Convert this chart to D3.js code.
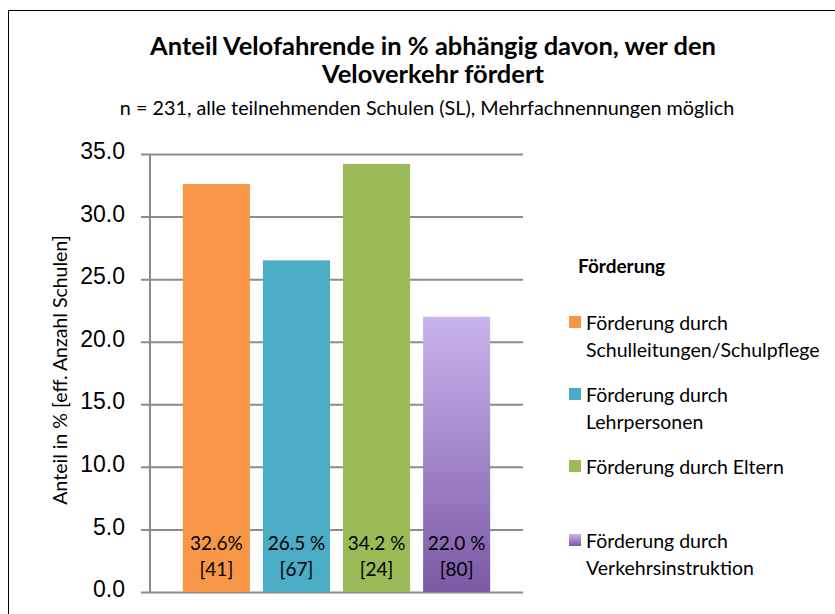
<!DOCTYPE html>
<html>
<head>
<meta charset="utf-8">
<script src="https://cdn.jsdelivr.net/npm/d3@7"></script>
<style>
  body { margin: 0; background: #fff; }
  svg { font-family: Lato, "Open Sans", sans-serif; }
  .tick text { font-size: 23px; fill: #000; }
  .legend-texts { font-size: 19.5px; }
</style>
</head>
<body>
<div id="svg-container" style="width:835px;height:614px"></div>
<script>
////////////////////////////  Data  ////////////////////////////////
const categories = [
  "Förderung durch Schulleitungen/Schulpflege",
  "Förderung durch Lehrpersonen",
  "Förderung durch Eltern",
  "Förderung durch Verkehrsinstruktion"
];
const legendLines = [
  ["Förderung durch", "Schulleitungen/Schulpflege"],
  ["Förderung durch", "Lehrpersonen"],
  ["Förderung durch Eltern"],
  ["Förderung durch", "Verkehrsinstruktion"]
];
const values = [32.6, 26.5, 34.2, 22.0];
const valueLabels = ["32.6%", "26.5 %", "34.2 %", "22.0 %"];
const counts = [41, 67, 24, 80];
const yTicks = [0, 5, 10, 15, 20, 25, 30, 35];
const colors = ["#f79646", "#4bacc6", "#9bbb59", "url(#purple-grad)"];

////////////////////////////  Init  ///////////////////////////////
const width = 835;
const height = 614;
const margin = { top: 154, right: 312, bottom: 22, left: 150 };

const svg = d3.select("#svg-container").append("svg")
  .attr("width", width).attr("height", height);

// gradient for the last bar
const defs = svg.append("defs");
const grad = defs.append("linearGradient")
  .attr("id", "purple-grad").attr("x1", 0).attr("y1", 0).attr("x2", 0).attr("y2", 1);
grad.append("stop").attr("offset", "0%").attr("stop-color", "#c9b4ec");
grad.append("stop").attr("offset", "100%").attr("stop-color", "#7b59a5");

// frame
svg.append("rect")
  .attr("x", 8.5).attr("y", 10.5)
  .attr("width", 840).attr("height", 620)
  .attr("fill", "none").attr("stroke", "#000").attr("stroke-width", 1);

// scales
const xScale = d3.scaleBand()
  .domain(categories)
  .range([margin.left, width - margin.right])
  .paddingInner(0.1625)
  .paddingOuter(0.41);
const yScale = d3.scaleLinear()
  .domain([0, 35])
  .range([height - margin.bottom, margin.top]);

// grid + y axis
const yAxis = d3.axisLeft(yScale)
  .tickValues(yTicks)
  .tickFormat(d3.format(".1f"))
  .tickSize(-(width - margin.right - margin.left + 9))
  .tickPadding(16);

const yG = svg.append("g")
  .attr("class", "y-axis")
  .attr("transform", `translate(${margin.left - 9}, 0)`)
  .call(yAxis);
yG.select(".domain").remove();
yG.selectAll(".tick line").attr("stroke", "#8c8c8c").attr("stroke-width", 2);
yG.selectAll(".tick text").attr("dy", "0.2em");

svg.append("line")
  .attr("x1", margin.left).attr("x2", margin.left)
  .attr("y1", yScale(35)).attr("y2", yScale(0))
  .attr("stroke", "#8c8c8c").attr("stroke-width", 2);

// bars
svg.selectAll(".bar")
  .data(values)
  .enter()
  .append("rect")
  .attr("class", "bar")
  .attr("x", (d, i) => xScale(categories[i]))
  .attr("y", (d) => yScale(d))
  .attr("width", xScale.bandwidth())
  .attr("height", (d) => yScale(0) - yScale(d))
  .attr("fill", (d, i) => colors[i]);

// bar labels
svg.selectAll(".bar-pct")
  .data(valueLabels)
  .enter()
  .append("text")
  .attr("x", (d, i) => xScale(categories[i]) + xScale.bandwidth() / 2)
  .attr("y", 550)
  .attr("text-anchor", "middle")
  .attr("font-size", 19)
  .text((d) => d);

svg.selectAll(".bar-n")
  .data(counts)
  .enter()
  .append("text")
  .attr("x", (d, i) => xScale(categories[i]) + xScale.bandwidth() / 2)
  .attr("y", 576)
  .attr("text-anchor", "middle")
  .attr("font-size", 19)
  .text((d) => `[${d}]`);

// titles
svg.append("text")
  .attr("x", 433).attr("y", 55)
  .attr("text-anchor", "middle")
  .attr("font-size", 25.5).attr("font-weight", "bold")
  .text("Anteil Velofahrende in % abhängig davon, wer den");
svg.append("text")
  .attr("x", 433).attr("y", 83)
  .attr("text-anchor", "middle")
  .attr("font-size", 25.5).attr("font-weight", "bold")
  .text("Veloverkehr fördert");
svg.append("text")
  .attr("x", 427).attr("y", 115)
  .attr("text-anchor", "middle")
  .attr("font-size", 19.8)
  .text("n = 231, alle teilnehmenden Schulen (SL), Mehrfachnennungen möglich");

// y unit
svg.append("text")
  .attr("transform", `translate(67, ${370}) rotate(-90)`)
  .attr("text-anchor", "middle")
  .attr("font-size", 19.5)
  .text("Anteil in % [eff. Anzahl Schulen]");

// legend
svg.append("text")
  .attr("x", 578).attr("y", 273)
  .attr("font-size", 19).attr("font-weight", "bold")
  .text("Förderung");

const legendY = [330, 402, 474, 548];

svg.selectAll(".legend-rects")
  .data(categories)
  .enter()
  .append("rect")
  .attr("x", 569)
  .attr("y", (d, i) => legendY[i] - 14)
  .attr("width", 12)
  .attr("height", 12)
  .attr("fill", (d, i) => colors[i]);

const legendTexts = svg.selectAll(".legend-texts")
  .data(legendLines)
  .enter()
  .append("text")
  .attr("class", "legend-texts")
  .attr("x", 586)
  .attr("y", (d, i) => legendY[i]);

legendTexts.selectAll("tspan")
  .data((d) => d)
  .enter()
  .append("tspan")
  .attr("x", 586)
  .attr("dy", (d, j) => (j === 0 ? 0 : 27))
  .text((d) => d);
</script>
</body>
</html>
